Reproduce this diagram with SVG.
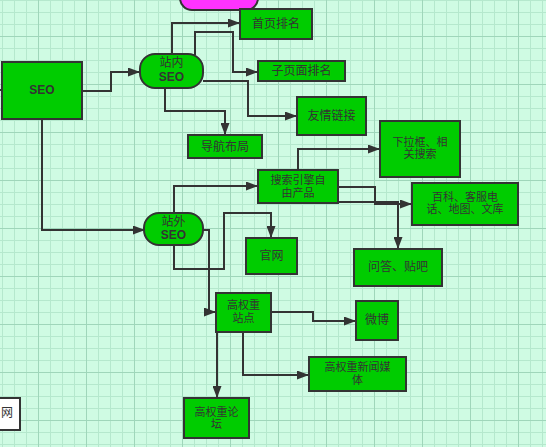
<svg xmlns="http://www.w3.org/2000/svg" width="546" height="447" viewBox="0 0 546 447">
<defs>
<pattern id="grid" patternUnits="userSpaceOnUse" x="2" y="0" width="48" height="48">
<rect width="48" height="48" fill="#cffbe3"/>
<path d="M0.5,0V48M12.5,0V48M24.5,0V48M0,0.5H48M0,12.5H48M0,24.5H48" stroke="#b5e8cd" stroke-width="1" fill="none"/>
<path d="M36.5,0V48M0,36.5H48" stroke="#9fd6ba" stroke-width="1" fill="none"/>
</pattern>
<marker id="arr" markerUnits="userSpaceOnUse" markerWidth="13" markerHeight="9" refX="12" refY="4.5" orient="auto">
<path d="M0,0L12,4.5L0,9z" fill="#333"/>
</marker>
<style>
.n{fill:#00cc00;stroke:#333;stroke-width:2}
.t{font-family:"Liberation Sans","Noto Sans CJK SC",sans-serif;font-size:12px;fill:#333;text-anchor:middle;dominant-baseline:central}
.m{font-size:11px}
.b{font-family:"Liberation Sans","Noto Sans CJK SC",sans-serif;font-size:12px;font-weight:bold;fill:#333;text-anchor:middle;dominant-baseline:central}
.c{fill:none;stroke:#333;stroke-width:2}
.a{marker-end:url(#arr)}
</style>
</defs>
<rect width="546" height="447" fill="url(#grid)"/>
<g id="connectors">
<path class="c" d="M0,90H2"/>
<path class="c a" d="M82,91H111V72H140"/>
<path class="c a" d="M172,54V23H240"/>
<path class="c a" d="M195,55V32H233V72H258"/>
<path class="c a" d="M203,81H248V116H297"/>
<path class="c a" d="M165,88V111H225V135"/>
<path class="c a" d="M42,119V230H145"/>
<path class="c a" d="M174,213V186H258"/>
<path class="c a" d="M298,170V149H380"/>
<path class="c a" d="M338,187H375V204H412"/>
<path class="c a" d="M338,202H398V249"/>
<path class="c a" d="M174,245V269H224V213H271V238"/>
<path class="c a" d="M203,230H209V312H216"/>
<path class="c a" d="M271,312H313V321H356"/>
<path class="c a" d="M243,332V375H309"/>
<path class="c a" d="M217,332V398"/>
</g>
<g id="top-node"><rect x="180" y="-30" width="78" height="40" rx="12" fill="#ff33ff" stroke="#333" stroke-width="2"/></g>
<g id="seo"><rect class="n" x="2" y="62" width="80" height="57"/><text class="b" x="42" y="90">SEO</text></g>
<g id="zhannei"><rect class="n" x="140" y="54" width="63" height="34" rx="15"/><text class="t" x="171.5" y="63">站内<tspan class="b" x="171.5" dy="14">SEO</tspan></text></g>
<g id="shouye"><rect class="n" x="240" y="9" width="72" height="30"/><text class="t" x="276" y="24">首页排名</text></g>
<g id="ziyemian"><rect class="n" x="258" y="61" width="87" height="20"/><text class="t" x="301.5" y="71">子页面排名</text></g>
<g id="youqing"><rect class="n" x="297" y="97" width="69" height="38"/><text class="t" x="331.5" y="116">友情链接</text></g>
<g id="daohang"><rect class="n" x="188" y="135" width="74" height="23"/><text class="t" x="225" y="146.5">导航布局</text></g>
<g id="zhanwai"><rect class="n" x="144" y="213" width="59" height="32" rx="15"/><text class="t" x="173.5" y="222">站外<tspan class="b" x="173.5" dy="13">SEO</tspan></text></g>
<g id="sousuo"><rect class="n" x="258" y="170" width="80" height="33"/><text class="t m" x="298" y="180">搜索引擎自<tspan x="298" dy="12.5">由产品</tspan></text></g>
<g id="xiala"><rect class="n" x="380" y="121" width="80" height="56"/><text class="t m" x="420" y="141.5">下拉框、相<tspan x="420" dy="12.5">关搜索</tspan></text></g>
<g id="baike"><rect class="n" x="412" y="183" width="106" height="42"/><text class="t m" x="465" y="196.5">百科、客服电<tspan x="465" dy="12.5">话、地图、文库</tspan></text></g>
<g id="wenda"><rect class="n" x="354" y="249" width="88" height="37"/><text class="t" x="398" y="267">问答、贴吧</text></g>
<g id="guanwang"><rect class="n" x="246" y="238" width="51" height="36"/><text class="t" x="271.5" y="256">官网</text></g>
<g id="gaoquan-zhandian"><rect class="n" x="216" y="293" width="55" height="39"/><text class="t m" x="243.5" y="305">高权重<tspan x="243.5" dy="12.5">站点</tspan></text></g>
<g id="weibo"><rect class="n" x="356" y="301" width="42" height="39"/><text class="t" x="377" y="320">微博</text></g>
<g id="xinwen"><rect class="n" x="309" y="357" width="97" height="34"/><text class="t m" x="357.5" y="367">高权重新闻媒<tspan x="357.5" dy="12.5">体</tspan></text></g>
<g id="luntan"><rect class="n" x="184" y="398" width="65" height="40"/><text class="t m" x="216.5" y="411.5">高权重论<tspan x="216.5" dy="12.5">坛</tspan></text></g>
<g id="left-box"><rect x="-60" y="398" width="80" height="32" fill="#fff" stroke="#333" stroke-width="2"/><text class="t" x="7" y="413">网</text></g>
</svg>
